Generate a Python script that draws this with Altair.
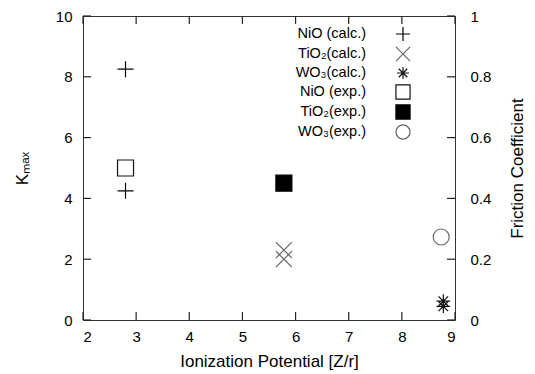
import altair as alt
import pandas as pd

# ---- data ----
series_order = ["NiO (calc.)", "TiO₂(calc.)", "WO₃(calc.)", "NiO (exp.)", "TiO₂(exp.)", "WO₃(exp.)"]

calc_series = ["NiO (calc.)", "NiO (calc.)", "TiO₂(calc.)", "TiO₂(calc.)", "WO₃(calc.)", "WO₃(calc.)"]
calc_x = [2.8, 2.8, 5.78, 5.78, 8.78, 8.78]
calc_kmax = [8.25, 4.25, 2.3, 2.0, 0.62, 0.45]

exp_series = ["NiO (exp.)", "TiO₂(exp.)", "WO₃(exp.)"]
exp_x = [2.8, 5.78, 8.74]
exp_friction = [0.50, 0.45, 0.273]

x_ticks = [2, 3, 4, 5, 6, 7, 8, 9]
kmax_ticks = [0, 2, 4, 6, 8, 10]
fric_ticks = [0, 0.2, 0.4, 0.6, 0.8, 1]

calc_df = pd.DataFrame({"series": calc_series, "ip": calc_x, "kmax": calc_kmax})
exp_df = pd.DataFrame({"series": exp_series, "ip": exp_x, "friction": exp_friction})
xt_df = pd.DataFrame({"v": x_ticks})
kt_df = pd.DataFrame({"v": kmax_ticks})
ft_df = pd.DataFrame({"v": fric_ticks})

W, H = 372, 304
FONT = "Liberation Sans"
TICK_COLOR = "#222222"
# inward tick length (~8 px) expressed in each scale's units
TX = 0.15   # x units
TK = 0.26   # Kmax units

plus = "M-1,0L1,0M0,-1L0,1"
xmark = "M-1,-1L1,1M-1,1L1,-1"
aster = "M-0.85,0L0.85,0M0,-0.85L0,0.85M-0.6,-0.6L0.6,0.6M-0.6,0.6L0.6,-0.6"

shape_range = [plus, xmark, aster, "square", "square", "circle"]
stroke_range = ["#000000", "#666666", "#111111", "#111111", "#000000", "#666666"]
fill_range = ["transparent", "transparent", "transparent", "#ffffff", "#000000", "transparent"]

legend = alt.Legend(
    title=None, orient="none", legendX=312, legendY=10, padding=0,
    labelAlign="right", labelOffset={"expr": "-45"}, labelFontSize=14.5, labelFont=FONT,
    labelColor="#000000", symbolSize=200, symbolStrokeWidth=1.2, rowPadding=0,
    labelLimit=0,
)

x_scale = alt.Scale(domain=[2, 9], nice=False, zero=False)
k_scale = alt.Scale(domain=[0, 10], nice=False)
f_scale = alt.Scale(domain=[0, 1], nice=False)

enc_common = dict(
    shape=alt.Shape("series:N", scale=alt.Scale(domain=series_order, range=shape_range), legend=legend),
    stroke=alt.Stroke("series:N", scale=alt.Scale(domain=series_order, range=stroke_range), legend=legend),
    fill=alt.Fill("series:N", scale=alt.Scale(domain=series_order, range=fill_range), legend=legend),
)

no_ticks = dict(ticks=False, domain=False, grid=False)

calc_layer = alt.Chart(calc_df).mark_point(size=256, strokeWidth=1.2, opacity=1).encode(
    x=alt.X("ip:Q", scale=x_scale, axis=alt.Axis(
        orient="bottom", values=x_ticks, **no_ticks,
        labelFontSize=15, labelFont=FONT, labelColor="#000000", labelPadding=9,
        title="Ionization Potential [Z/r]", titleFontSize=17, titleFont=FONT,
        titleFontWeight="normal", titleColor="#000000", titlePadding=9)),
    y=alt.Y("kmax:Q", scale=k_scale, axis=alt.Axis(
        orient="left", values=kmax_ticks, **no_ticks,
        labelFontSize=15, labelFont=FONT, labelColor="#000000", labelPadding=11,
        title="Kₘₐₓ", titleFontSize=17, titleFont=FONT, titleFontWeight="normal",
        titleColor="#000000", titlePadding=24)),
    **enc_common,
)

exp_layer = alt.Chart(exp_df).mark_point(size=256, strokeWidth=1.2, opacity=1).encode(
    x=alt.X("ip:Q", scale=x_scale, axis=None),
    y=alt.Y("friction:Q", scale=f_scale, axis=alt.Axis(
        orient="right", values=fric_ticks, format="~g", **no_ticks,
        labelFontSize=15, labelFont=FONT, labelColor="#000000", labelPadding=15,
        title="Friction Coefficient", titleFontSize=17, titleFont=FONT,
        titleFontWeight="normal", titleColor="#000000", titleAngle=270, titlePadding=36)),
    **enc_common,
)

# inward tick marks on all four sides, drawn through the chart's own scales
rule_style = dict(color=TICK_COLOR, strokeWidth=1.2, opacity=1)

bottom_ticks = alt.Chart(xt_df).mark_rule(**rule_style).encode(
    x=alt.X("v:Q", scale=x_scale, axis=None),
    y=alt.Y(datum=0, scale=k_scale, axis=None),
    y2=alt.Y2(datum=TK),
)
top_ticks = alt.Chart(xt_df).mark_rule(**rule_style).encode(
    x=alt.X("v:Q", scale=x_scale, axis=None),
    y=alt.Y(datum=10, scale=k_scale, axis=None),
    y2=alt.Y2(datum=10 - TK),
)
left_ticks = alt.Chart(kt_df).mark_rule(**rule_style).encode(
    x=alt.X(datum=2, scale=x_scale, axis=None),
    x2=alt.X2(datum=2 + TX),
    y=alt.Y("v:Q", scale=k_scale, axis=None),
)
right_ticks = alt.Chart(ft_df).mark_rule(**rule_style).encode(
    x=alt.X(datum=9, scale=x_scale, axis=None),
    x2=alt.X2(datum=9 - TX),
    y=alt.Y("v:Q", scale=f_scale, axis=None),
)

chart = alt.layer(
    bottom_ticks, top_ticks, left_ticks, right_ticks, calc_layer, exp_layer
).resolve_scale(
    y="independent"
).resolve_axis(
    x="independent", y="independent"
).properties(
    width=W, height=H,
    autosize=alt.AutoSizeParams(type="none"),
    padding={"left": 75, "top": 8, "right": 72, "bottom": 50},
    background="#ffffff",
).configure_view(
    stroke="#333333", strokeWidth=1
)

chart.save("out.html", embed_options={"renderer": "svg", "actions": False})
